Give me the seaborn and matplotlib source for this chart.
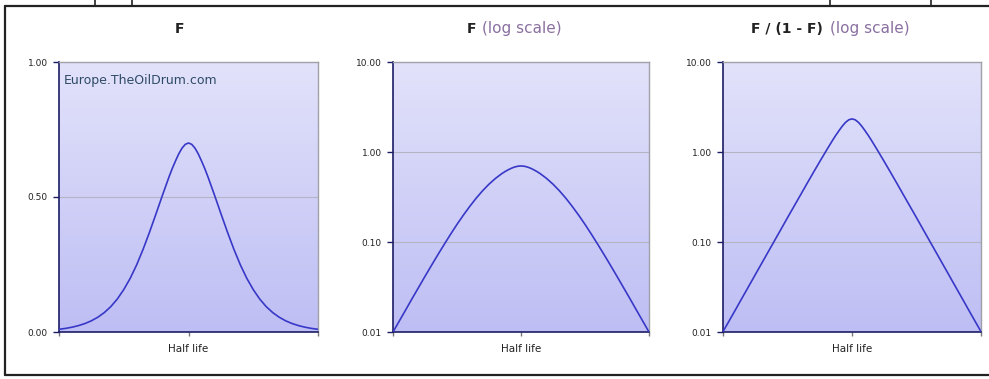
import numpy as np
import pandas as pd
import matplotlib
matplotlib.use("Agg")
import matplotlib.pyplot as plt
import seaborn as sns
from matplotlib.lines import Line2D
from matplotlib.colors import LinearSegmentedColormap

# time relative to the half life (0 = half life, -1 / 1 = chart edges)
t = [-1.0, -0.95, -0.9, -0.85, -0.8, -0.75, -0.7, -0.65, -0.6, -0.55,
     -0.5, -0.45, -0.4, -0.35, -0.3, -0.25, -0.2, -0.15, -0.125, -0.1,
     -0.075, -0.05, -0.025, 0.0, 0.025, 0.05, 0.075, 0.1, 0.125, 0.15,
     0.2, 0.25, 0.3, 0.35, 0.4, 0.45, 0.5, 0.55, 0.6, 0.65,
     0.7, 0.75, 0.8, 0.85, 0.9, 0.95, 1.0]
F = [0.0100, 0.0133, 0.0177, 0.0236, 0.0313, 0.0415, 0.0548, 0.072, 0.094, 0.122,
     0.157, 0.199, 0.249, 0.307, 0.371, 0.439, 0.508, 0.575, 0.606, 0.634,
     0.660, 0.681, 0.695, 0.700, 0.695, 0.681, 0.660, 0.634, 0.606, 0.575,
     0.508, 0.439, 0.371, 0.307, 0.249, 0.199, 0.157, 0.122, 0.094, 0.072,
     0.0548, 0.0415, 0.0313, 0.0236, 0.0177, 0.0133, 0.0100]

lin_ticks = [0.0, 0.5, 1.0]
log_ticks = [0.01, 0.1, 1.0, 10.0]

df = pd.DataFrame({"t": t, "F": F})
df["odds"] = df["F"] / (1 - df["F"])

sns.set_style("white")
plt.rcParams["font.family"] = ["DejaVu Sans"]

fig = plt.figure(figsize=(9.89, 3.79), dpi=100)
W, H = 989, 379

def px(l, top, r, b):
    return [l / W, 1 - b / H, (r - l) / W, (b - top) / H]

boxes = [px(59, 62, 318, 332), px(393, 62, 649, 332), px(723, 62, 981, 332)]
grad = LinearSegmentedColormap.from_list("bg", ["#bebef4", "#e2e2fb"])
line_col = "#3838c8"
navy = "#1c1c66"

axes = []
for i, box in enumerate(boxes):
    ax = fig.add_axes(box)
    ax.imshow(np.linspace(0, 1, 100).reshape(-1, 1), cmap=grad, origin="lower",
              extent=[0, 1, 0, 1], transform=ax.transAxes, aspect="auto", zorder=0)
    ycol = "odds" if i == 2 else "F"
    sns.lineplot(data=df, x="t", y=ycol, ax=ax, color=line_col, lw=1.2, zorder=3)
    ax.set_xlim(-1, 1)
    if i == 0:
        ax.set_ylim(0, 1)
        ax.set_yticks(lin_ticks)
        ax.set_yticklabels(["%.2f" % v for v in lin_ticks])
        ax.axhline(0.5, color="#b4b4c4", lw=0.8, zorder=1)
    else:
        ax.set_yscale("log")
        ax.set_ylim(0.01, 10)
        ax.set_yticks(log_ticks)
        ax.set_yticklabels(["%.2f" % v for v in log_ticks])
        ax.minorticks_off()
        for g in [0.1, 1.0]:
            ax.axhline(g, color="#b4b4c4", lw=0.8, zorder=1)
    ax.set_xticks([-1, 0, 1])
    ax.set_xticklabels(["", "Half life", ""], fontsize=7.5, color="#222222")
    ax.set_xlabel("")
    ax.set_ylabel("")
    ax.tick_params(axis="y", labelsize=6.5, length=4, width=1, color=navy,
                   direction="out", left=True, pad=4, labelcolor="#222222")
    ax.tick_params(axis="x", length=3, width=1, color="#777777", direction="out",
                   bottom=True, pad=6)
    for s in ["left", "bottom"]:
        ax.spines[s].set_color(navy)
        ax.spines[s].set_linewidth(1.2)
    for s in ["top", "right"]:
        ax.spines[s].set_color("#a0a0a8")
        ax.spines[s].set_linewidth(1.0)
    axes.append(ax)

axes[0].text(0.02, 0.93, "Europe.TheOilDrum.com", transform=axes[0].transAxes,
             fontsize=9, color="#2f4a66", va="center", ha="left")

# titles
ty = 1 - 29 / H
purple = "#8a70a0"
fig.text(179 / W, ty, "F", ha="center", va="center", fontsize=10, fontweight="bold", color="#222222")
fig.text(476 / W, ty, "F", ha="right", va="center", fontsize=10, fontweight="bold", color="#222222")
fig.text(482 / W, ty, "(log scale)", ha="left", va="center", fontsize=11, color=purple)
fig.text(823 / W, ty, "F / (1 - F)", ha="right", va="center", fontsize=10, fontweight="bold", color="#222222")
fig.text(830 / W, ty, "(log scale)", ha="left", va="center", fontsize=11, color=purple)

# outer frame of the original screenshot
fig.add_artist(Line2D([5 / W, 1], [1 - 6 / H, 1 - 6 / H], color="#222222", lw=1.6))
fig.add_artist(Line2D([5 / W, 5 / W], [1 - 6 / H, 1 - 375 / H], color="#222222", lw=1.6))
fig.add_artist(Line2D([5 / W, 1], [1 - 375 / H, 1 - 375 / H], color="#222222", lw=1.6))
for x in [95, 132, 830, 931]:
    fig.add_artist(Line2D([x / W, x / W], [1, 1 - 6 / H], color="#222222", lw=1.2))

fig.savefig("out.png", dpi=100)
